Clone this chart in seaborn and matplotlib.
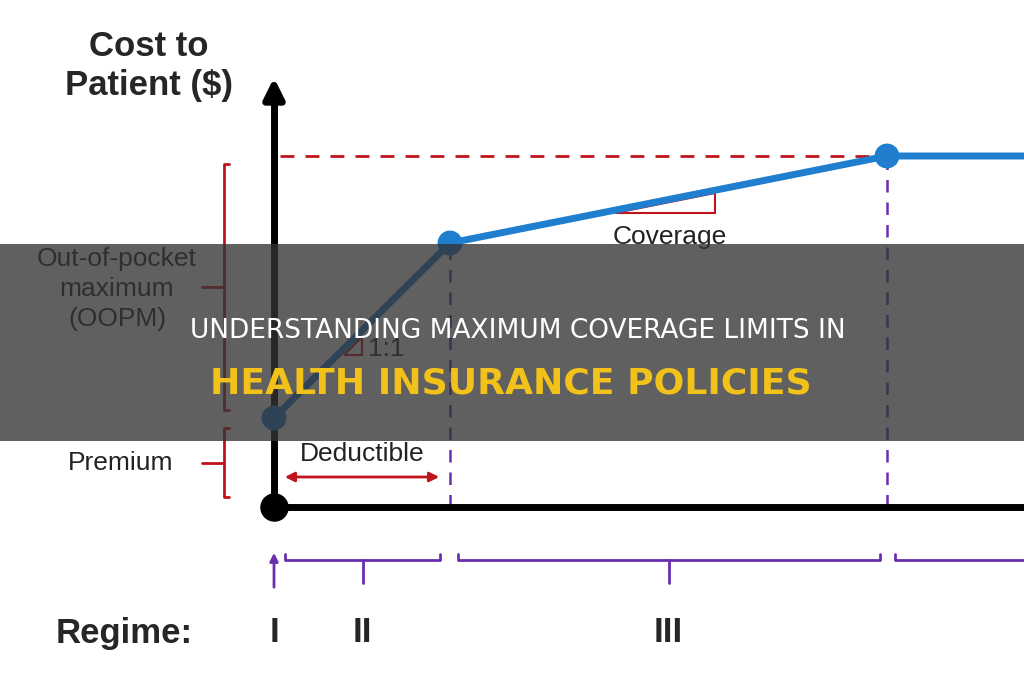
import matplotlib
matplotlib.use("Agg")
import matplotlib.pyplot as plt
import numpy as np
import pandas as pd
import seaborn as sns
from matplotlib.patches import Rectangle, Polygon

sns.set_theme(style="white")
plt.rcParams['font.family'] = ['Liberation Sans', 'DejaVu Sans']

# data units: x = spending, y = cost to patient (origin at axis corner)
spend = [0, 176, 613, 750]
cost = [89, 264, 351, 351]
breaks = [176, 613]          # end of deductible, reaching OOPM
regime_labels = ['I', 'II', 'III']
regime_x = [0, 88, 394]

OX, OY = 274, 507  # origin in pixel-like frame
BLUE = '#1f7fce'
RED = '#c0141c'
PURPLE = '#6a2fb0'

fig = plt.figure(figsize=(10.24, 6.80), dpi=100)
ax = fig.add_axes([0, 0, 1, 1])
ax.set_xlim(-OX, 1024 - OX)
ax.set_ylim(OY - 680, OY)
ax.axis('off')

df = pd.DataFrame({'spend': spend, 'cost': cost})
sns.lineplot(data=df, x='spend', y='cost', ax=ax, color=BLUE, lw=5, zorder=3)
sns.scatterplot(data=df.iloc[:3], x='spend', y='cost', ax=ax, color=BLUE,
                s=320, edgecolor='none', zorder=4)

# axes
ax.plot([0, 0], [0, 420], color='black', lw=5, zorder=2)
ax.annotate('', xy=(0, 432), xytext=(0, 400),
            arrowprops=dict(arrowstyle='-|>', color='black', lw=5, mutation_scale=30))
ax.plot([0, 750], [0, 0], color='black', lw=5, zorder=2)
ax.scatter([0], [0], s=380, color='black', zorder=5)

# guides
ax.plot([6, breaks[1]], [cost[2], cost[2]], color=RED, lw=2, ls=(0, (5, 4)))
for b, c in zip(breaks, cost[1:3]):
    ax.plot([b, b], [0, c], color=PURPLE, lw=1.8, ls=(0, (5, 4)), zorder=1)

# slope triangles
ax.add_patch(Polygon([[70, 152], [88, 152], [88, 170]], closed=True, fill=False, ec=RED, lw=1.5))
ax.text(94, 158, '1:1', fontsize=19, va='center', color='#222')
ax.add_patch(Polygon([[341, 294], [441, 294], [441, 314]], closed=True, fill=False, ec=RED, lw=1.5))
ax.text(396, 270, 'Coverage', fontsize=19, ha='center', va='center', color='#222')

# deductible arrow
ax.annotate('', xy=(8, 30), xytext=(168, 30),
            arrowprops=dict(arrowstyle='<|-|>', color=RED, lw=2, mutation_scale=14))
ax.text(88, 53, 'Deductible', fontsize=19, ha='center', va='center', color='#222')

# left brackets
def vbracket(y0, y1, x=-50):
    ax.plot([x + 5, x, x, x + 5], [y1, y1, y0, y0], color=RED, lw=2)
    ym = (y0 + y1) / 2
    ax.plot([x - 22, x], [ym, ym], color=RED, lw=2)
    return ym

ym = vbracket(10, 79)
ax.text(-153, ym - 1, 'Premium', fontsize=19, ha='center', va='center', color='#222')
vbracket(97, 343)
ax.text(-157, 218, 'Out-of-pocket\nmaximum\n(OOPM)', fontsize=19, ha='center',
        va='center', color='#222', linespacing=1.3)

ax.text(-125, 441, 'Cost to\nPatient ($)', fontsize=25, fontweight='bold',
        ha='center', va='center', linespacing=1.25)

# regime braces
yb = -53
def hbrace(x0, x1, tick=True):
    ax.plot([x0, x0, x1, x1], [yb + 6, yb, yb, yb + 6], color=PURPLE, lw=2)
    if tick:
        xm = (x0 + x1) / 2
        ax.plot([xm, xm], [yb, yb - 23], color=PURPLE, lw=2)

hbrace(11, 166)
hbrace(184, 606)
ax.plot([621, 621, 760], [yb + 6, yb, yb], color=PURPLE, lw=2)
ax.annotate('', xy=(0, yb + 10), xytext=(0, yb - 30),
            arrowprops=dict(arrowstyle='-|>', color=PURPLE, lw=2, mutation_scale=12))

ax.text(-150, -126, 'Regime:', fontsize=25, fontweight='bold', ha='center', va='center')
for lx, lab in zip(regime_x, regime_labels):
    ax.text(lx, -126, lab, fontsize=25, fontweight='bold', ha='center', va='center')

# banner overlay
ax.add_patch(Rectangle((-OX, OY - 441), 1024, 197, color='#333333', alpha=0.78, zorder=10, lw=0))
ax.text(518 - OX, OY - 331, 'UNDERSTANDING MAXIMUM COVERAGE LIMITS IN', color='white',
        fontsize=19, ha='center', va='center', zorder=11, family=['DejaVu Sans'])
ax.text(511 - OX, OY - 383, 'HEALTH INSURANCE POLICIES', color='#f2c21b',
        fontsize=26, fontweight='semibold', ha='center', va='center', zorder=11,
        family=['DejaVu Sans'])

fig.savefig('out.png', dpi=100)
